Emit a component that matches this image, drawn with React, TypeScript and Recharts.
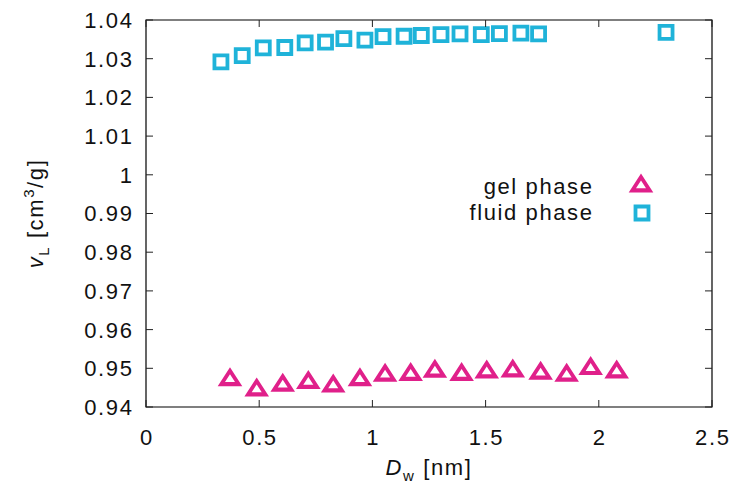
import React from 'react';
import { ScatterChart, Scatter, XAxis, YAxis, ReferenceArea, Legend, Label } from 'recharts';

// gel phase (triangles)
const gelDw = [0.371, 0.489, 0.604, 0.717, 0.827, 0.945, 1.056, 1.169, 1.276, 1.394, 1.505, 1.62, 1.743, 1.858, 1.964, 2.079];
const gelVl = [0.9478, 0.9452, 0.9464, 0.9471, 0.9462, 0.9478, 0.949, 0.9492, 0.95, 0.9492, 0.9498, 0.9501, 0.9495, 0.949, 0.9507, 0.9498];

// fluid phase (squares)
const fluidDw = [0.331, 0.425, 0.518, 0.613, 0.703, 0.793, 0.874, 0.967, 1.047, 1.14, 1.216, 1.303, 1.387, 1.481, 1.561, 1.656, 1.734, 2.297];
const fluidVl = [1.0292, 1.0308, 1.0328, 1.0329, 1.0341, 1.0343, 1.0352, 1.0348, 1.0357, 1.0358, 1.036, 1.0362, 1.0364, 1.0362, 1.0365, 1.0366, 1.0364, 1.0368];

const seriesNames = ['gel phase', 'fluid phase'];
const xTicks = [0, 0.5, 1, 1.5, 2, 2.5];
const yTicks = [0.94, 0.95, 0.96, 0.97, 0.98, 0.99, 1, 1.01, 1.02, 1.03, 1.04];

const GEL = '#e0208a';
const FLUID = '#1fb3d9';
const FONT = '"Liberation Sans", Arial, Helvetica, sans-serif';

const W = 734;
const H = 484;
const LEFT = 146;
const RIGHT = 712;
const TOP = 20;
const BOTTOM = 407;
const TICK = 7;

const gelData = gelDw.map((x, i) => ({ x, y: gelVl[i] }));
const fluidData = fluidDw.map((x, i) => ({ x, y: fluidVl[i] }));

const Triangle = ({ cx, cy }: any) => (
  <path
    d={`M${cx},${cy - 9.5} L${cx + 12.3},${cy + 9.5} L${cx - 12.3},${cy + 9.5} Z M${cx},${cy - 2.5} L${cx - 5},${cy + 5.3} L${cx + 5},${cy + 5.3} Z`}
    fill={GEL}
    fillRule="evenodd"
  />
);

const Square = ({ cx, cy }: any) => (
  <path
    d={`M${cx - 8.4},${cy - 8.4} h16.8 v16.8 h-16.8 Z M${cx - 4.6},${cy - 4.6} v9.2 h9.2 v-9.2 Z`}
    fill={FLUID}
    fillRule="evenodd"
  />
);

const textStyle = { fontFamily: FONT, fontSize: 22, letterSpacing: 1.6, fill: '#111' };

const XTick = ({ x, payload }: any) => (
  <g>
    <line x1={x} x2={x} y1={BOTTOM} y2={BOTTOM - TICK} stroke="#222" />
    <line x1={x} x2={x} y1={TOP} y2={TOP + TICK} stroke="#222" />
    <text x={x + 0.8} y={BOTTOM + 22} dy="0.71em" textAnchor="middle" style={textStyle}>
      {payload.value}
    </text>
  </g>
);

const YTick = ({ y, payload }: any) => (
  <g>
    <line x1={LEFT} x2={LEFT + TICK} y1={y} y2={y} stroke="#222" />
    <line x1={RIGHT - TICK} x2={RIGHT} y1={y} y2={y} stroke="#222" />
    <text x={LEFT - 12.5} y={y} dy="0.36em" textAnchor="end" style={textStyle}>
      {payload.value}
    </text>
  </g>
);

const XTitle = () => (
  <text x={(LEFT + RIGHT) / 2} y={475} textAnchor="middle" style={textStyle}>
    <tspan fontStyle="italic">D</tspan>
    <tspan dy={6} fontSize={15}>w</tspan>
    <tspan dy={-6}> [nm]</tspan>
  </text>
);

const YTitle = () => (
  <text x={43} y={(TOP + BOTTOM) / 2} transform={`rotate(-90, 43, ${(TOP + BOTTOM) / 2})`} textAnchor="middle" style={textStyle}>
    <tspan fontStyle="italic">v</tspan>
    <tspan dy={6} fontSize={15}>L</tspan>
    <tspan dy={-6}> [cm</tspan>
    <tspan dy={-9} fontSize={15}>3</tspan>
    <tspan dy={9}>/g]</tspan>
  </text>
);

const LegendBox = ({ payload }: any) => {
  const items = [...(payload || [])].sort(
    (a: any, b: any) => seriesNames.indexOf(a.value) - seriesNames.indexOf(b.value)
  );
  return (
    <svg width={200} height={62}>
      {items.map((p: any, i: number) => (
        <g key={p.value}>
          <text x={133.5} y={i === 0 ? 29 : 55} textAnchor="end" style={textStyle}>
            {p.value}
          </text>
          {p.value === seriesNames[0] ? <Triangle cx={181} cy={18} /> : <Square cx={182} cy={48} />}
        </g>
      ))}
    </svg>
  );
};

export default function App() {
  return (
    <div style={{ position: 'absolute', left: 0, top: 0, background: '#fff' }}>
      <ScatterChart width={W} height={H} margin={{ top: TOP, right: W - RIGHT, bottom: 0, left: 0 }}>
        <XAxis
          type="number"
          dataKey="x"
          domain={[0, 2.5]}
          ticks={xTicks}
          height={H - BOTTOM}
          axisLine={false}
          tickLine={false}
          tick={<XTick />}
          interval={0}
        >
          <Label content={<XTitle />} />
        </XAxis>
        <YAxis
          type="number"
          dataKey="y"
          domain={[0.94, 1.04]}
          ticks={yTicks}
          width={LEFT}
          axisLine={false}
          tickLine={false}
          tick={<YTick />}
          interval={0}
        >
          <Label content={<YTitle />} />
        </YAxis>
        <ReferenceArea x1={0} x2={2.5} y1={0.94} y2={1.04} fill="none" stroke="#000" strokeWidth={1.2} />
        <Legend
          layout="vertical"
          align="center"
          verticalAlign="middle"
          content={<LegendBox />}
          wrapperStyle={{ position: 'absolute', left: 460, top: 165, width: 200, height: 62 }}
        />
        <Scatter name={seriesNames[0]} data={gelData} fill={GEL} shape={<Triangle />} isAnimationActive={false} />
        <Scatter name={seriesNames[1]} data={fluidData} fill={FLUID} shape={<Square />} isAnimationActive={false} />
      </ScatterChart>
    </div>
  );
}
